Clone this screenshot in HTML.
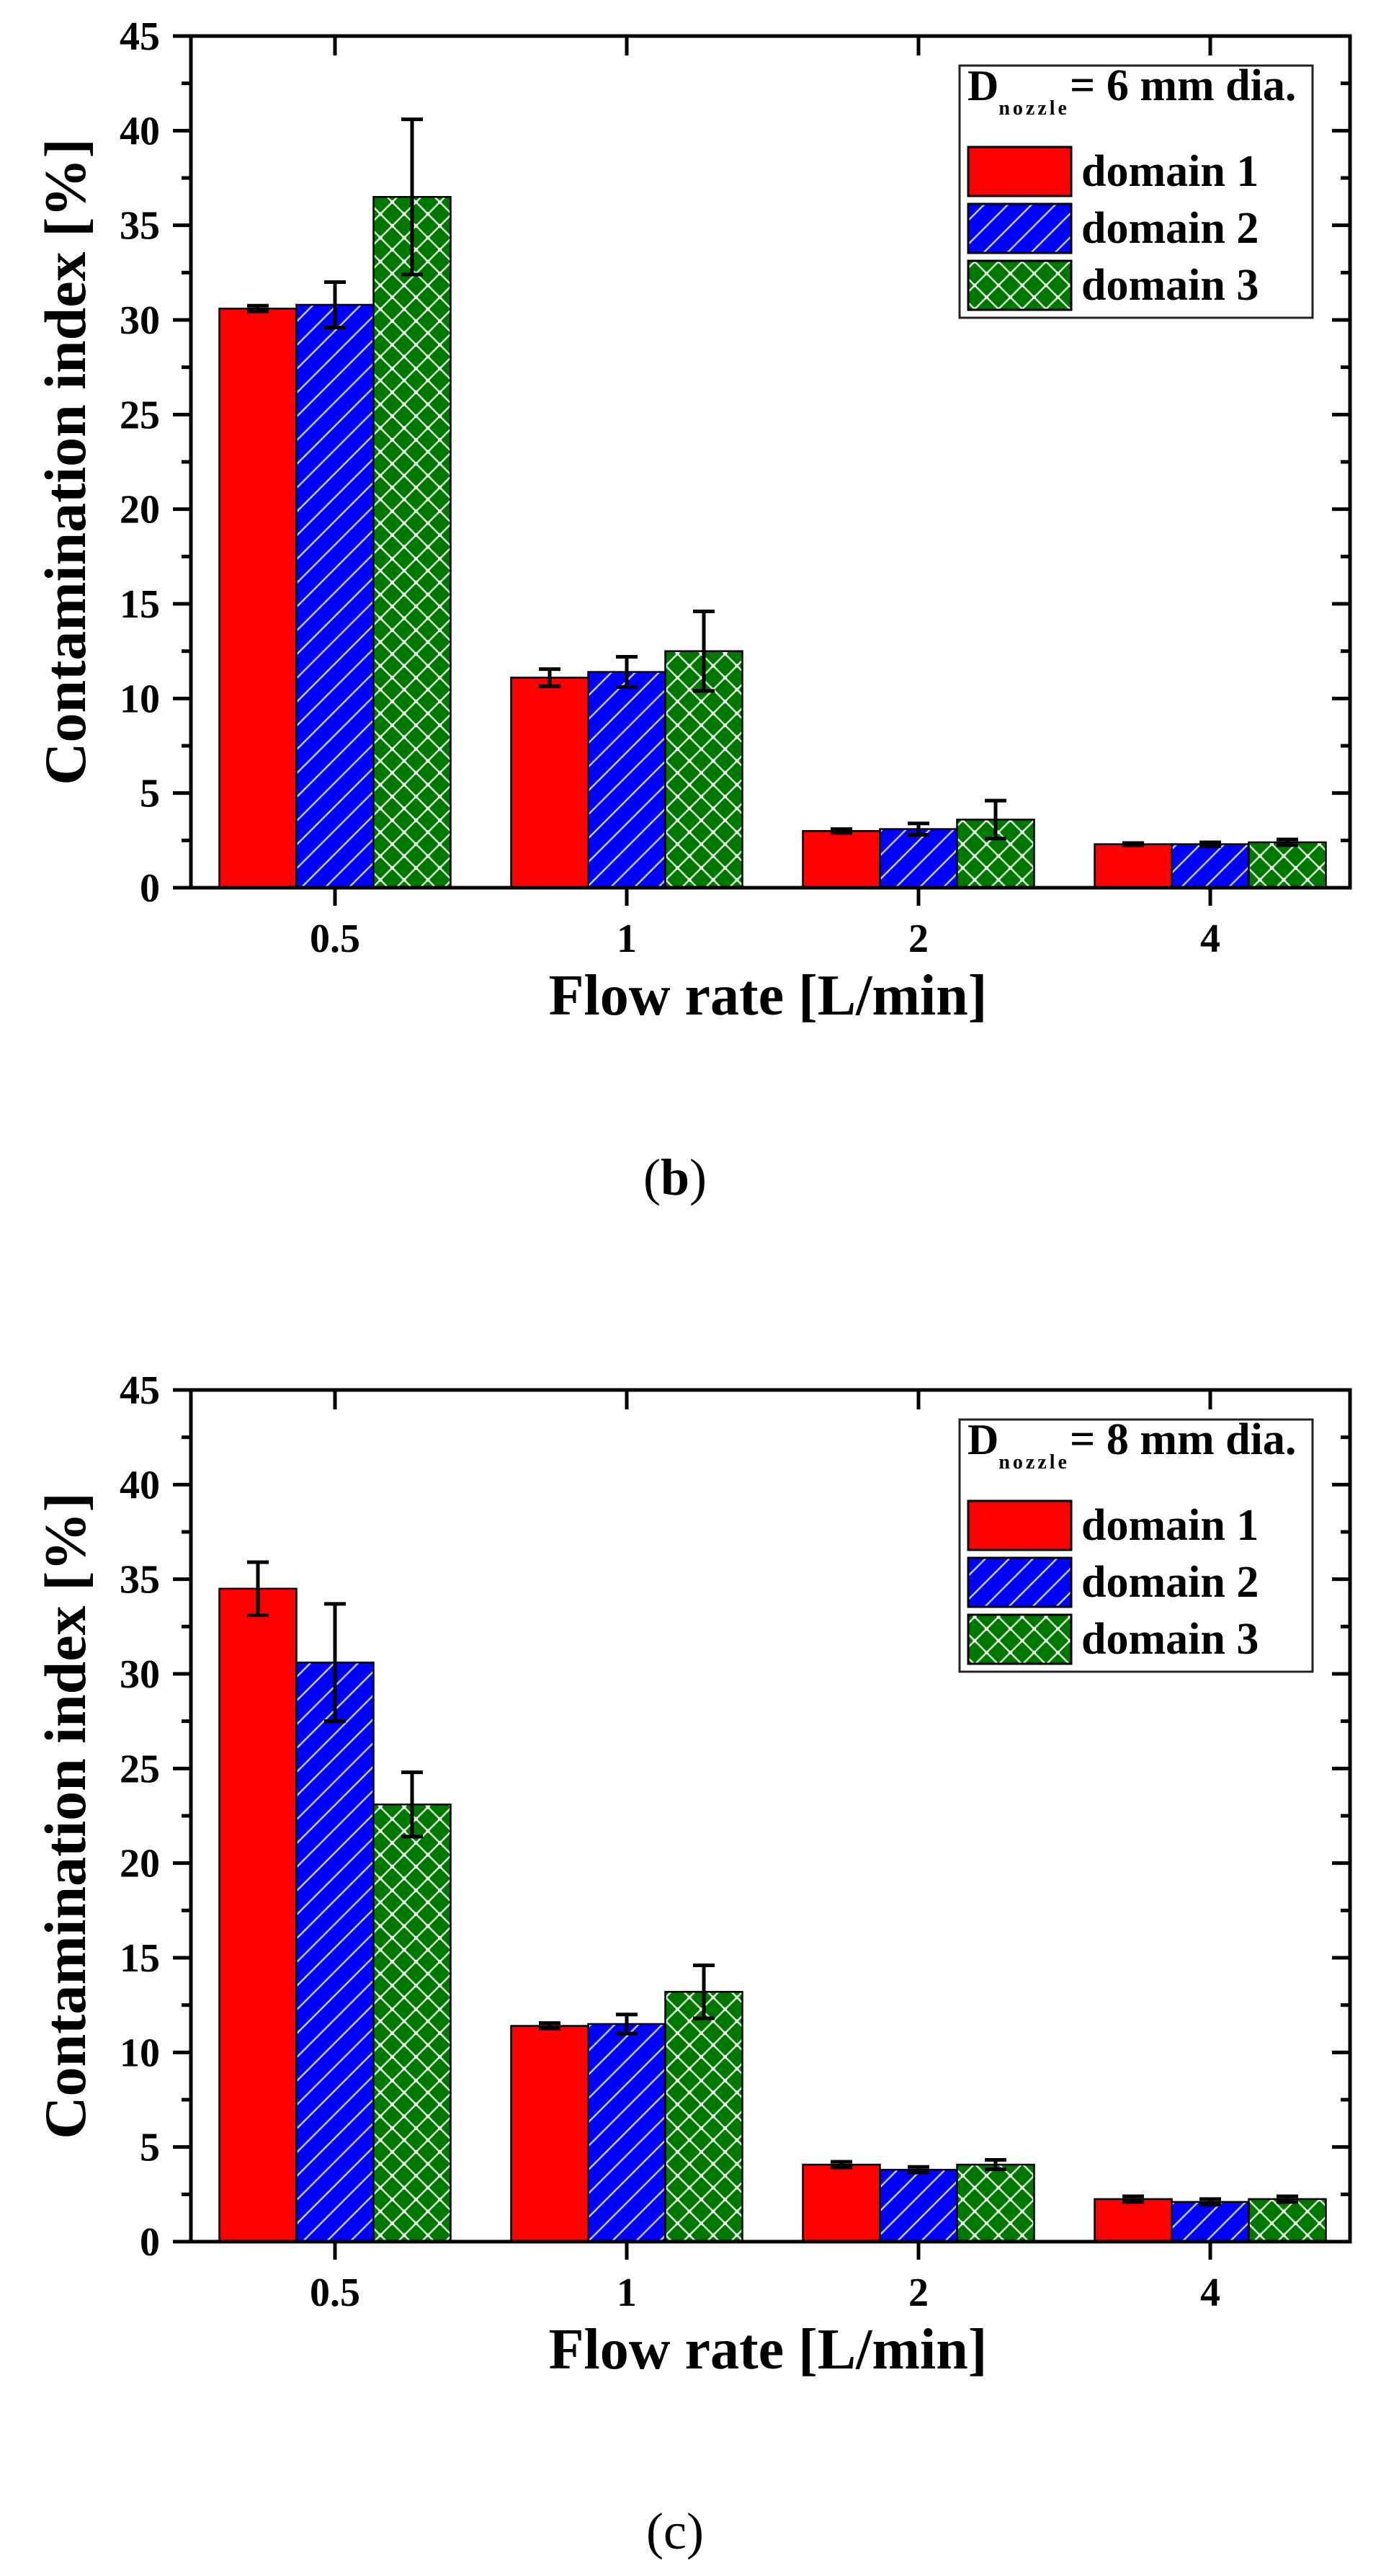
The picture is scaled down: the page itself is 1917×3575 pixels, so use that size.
<!DOCTYPE html>
<html><head><meta charset="utf-8">
<style>
html,body{margin:0;padding:0;background:#fff;}
svg{display:block;}
text{font-family:"Liberation Serif",serif;}
</style></head>
<body>
<svg id="fig" width="1917" height="3575" viewBox="0 0 1917 3575" xmlns="http://www.w3.org/2000/svg">
<defs>
<pattern id="diag" patternUnits="userSpaceOnUse" width="33" height="33">
<rect width="33" height="33" fill="#0000ff"/>
<path d="M-8,41 L41,-8 M-8,8 L8,-8 M25,41 L41,25" stroke="#c8c8ff" stroke-width="2.5"/>
</pattern>
<pattern id="cross" patternUnits="userSpaceOnUse" width="33" height="33">
<rect width="33" height="33" fill="#007800"/>
<path d="M0,0 L33,33 M33,0 L0,33" stroke="#d8f0d8" stroke-width="2.5"/>
<circle cx="0" cy="0" r="2.5" fill="#fff"/><circle cx="33" cy="0" r="2.5" fill="#fff"/>
<circle cx="0" cy="33" r="2.5" fill="#fff"/><circle cx="33" cy="33" r="2.5" fill="#fff"/>
<circle cx="16.5" cy="16.5" r="2.5" fill="#fff"/>
</pattern>
</defs>
</svg>
<script>
// ---- data ----
const categories = ["0.5", "1", "2", "4"];
const yTicks = [0, 5, 10, 15, 20, 25, 30, 35, 40, 45];
const seriesNames = ["domain 1", "domain 2", "domain 3"];
// chart (b): 6 mm nozzle
const b_d1 = [30.6, 11.1, 3.0, 2.3];
const b_d2 = [30.8, 11.4, 3.1, 2.3];
const b_d3 = [36.5, 12.5, 3.6, 2.4];
const b_e1 = [0.15, 0.45, 0.1, 0.06];
const b_e2 = [1.2, 0.8, 0.3, 0.1];
const b_e3 = [4.1, 2.1, 1.0, 0.15];
// chart (c): 8 mm nozzle
const c_d1 = [34.5, 11.4, 4.07, 2.25];
const c_d2 = [30.6, 11.5, 3.8, 2.1];
const c_d3 = [23.1, 13.2, 4.07, 2.25];
const c_e1 = [1.4, 0.15, 0.15, 0.15];
const c_e2 = [3.1, 0.5, 0.15, 0.15];
const c_e3 = [1.7, 1.4, 0.25, 0.15];

const NS = "http://www.w3.org/2000/svg";
const svg = document.getElementById("fig");
function mk(tag, attrs, parent){
  const e = document.createElementNS(NS, tag);
  for (const k in attrs) e.setAttribute(k, attrs[k]);
  (parent || svg).appendChild(e);
  return e;
}
const fills = ["#ff0000", "url(#diag)", "url(#cross)"];

function drawChart(dy, vals, errs, nozzle, label, labelBold, chartName){
  const g = mk("g", {});
  
  
  const L = 265, R = 1874, T = 50 + dy, B = 1232 + dy;
  const yMax = 45;
  const yS = v => B - v / yMax * (B - T);
  const xCenter = i => 465 + i * 405;
  const bw = 107;
  for (let s = 0; s < 3; s++){
    for (let i = 0; i < categories.length; i++){
      const x0 = xCenter(i) - 1.5 * bw + s * bw;
      const r = mk("rect", {x: x0, y: yS(vals[s][i]), width: bw, height: B - yS(vals[s][i]), fill: fills[s], stroke: "#000", "stroke-width": 2.5}, g);
      
      
    }
  }
  for (let s = 0; s < 3; s++){
    for (let i = 0; i < categories.length; i++){
      const cx = xCenter(i) - bw + s * bw;
      const hi = yS(vals[s][i] + errs[s][i]), lo = yS(vals[s][i] - errs[s][i]);
      const eb = mk("path", {d: `M${cx},${hi} L${cx},${lo} M${cx-15},${hi} L${cx+15},${hi} M${cx-15},${lo} L${cx+15},${lo}`, stroke: "#000", "stroke-width": 5, fill: "none"}, g);
      
      
    }
  }
  const frame = mk("rect", {x: L, y: T, width: R - L, height: B - T, fill: "none", stroke: "#000", "stroke-width": 5}, g);
  
  
  for (let k = 0; k <= 18; k++){
    const v = k * 2.5, y = yS(v), major = (k % 2 === 0);
    mk("line", {x1: L - (major ? 25 : 13), x2: L, y1: y, y2: y, stroke: "#000", "stroke-width": 5}, g);
    mk("line", {x1: R, x2: R - (major ? 25 : 13), y1: y, y2: y, stroke: "#000", "stroke-width": 5}, g);
  }
  yTicks.forEach(v => {
    const t = mk("text", {x: 222, y: yS(v) + 19, "text-anchor": "end", "font-size": 56, "font-weight": "bold"}, g);
    t.textContent = v;
    
    
  });
  categories.forEach((c, i) => {
    const x = xCenter(i);
    mk("line", {x1: x, x2: x, y1: B, y2: B + 25, stroke: "#000", "stroke-width": 5}, g);
    mk("line", {x1: x, x2: x, y1: T, y2: T + 27, stroke: "#000", "stroke-width": 5}, g);
    const t = mk("text", {x: x, y: B + 89, "text-anchor": "middle", "font-size": 56, "font-weight": "bold"}, g);
    t.textContent = c;
    
    
  });
  const yt = mk("text", {x: 0, y: 0, transform: `translate(118,${(T + B) / 2}) rotate(-90)`, "text-anchor": "middle", "font-size": 82, "font-weight": "bold"}, g);
  yt.textContent = "Contamination index [%]";
  
  
  const xt = mk("text", {x: 1066, y: 1408 + dy, "text-anchor": "middle", "font-size": 80, "font-weight": "bold"}, g);
  xt.textContent = "Flow rate [L/min]";
  
  
  const lg = mk("g", {}, g);
  
  
  mk("rect", {x: 1332, y: 91 + dy, width: 490, height: 350, fill: "#fff", stroke: "#222", "stroke-width": 3}, lg);
  const lt = mk("text", {x: 1343, y: 139 + dy, "font-size": 60, "font-weight": "bold"}, lg);
  
  
  const t1 = mk("tspan", {}, lt); t1.textContent = "D";
  const t2 = mk("tspan", {dy: 20, "font-size": 28, "letter-spacing": 4}, lt); t2.textContent = "nozzle";
  const t3 = mk("tspan", {dy: -20, "font-size": 62}, lt); t3.textContent = "= " + nozzle + " mm dia.";
  for (let s = 0; s < 3; s++){
    const ry = 204 + dy + s * 79;
    const sw = mk("rect", {x: 1344, y: ry, width: 143, height: 68, fill: fills[s], stroke: "#000", "stroke-width": 3}, lg);
    
    
    const tx = mk("text", {x: 1501, y: ry + 54, "font-size": 62, "font-weight": "bold"}, lg);
    tx.textContent = seriesNames[s];
    
    
  }
  const pl = mk("text", {x: 937, y: 1658 + dy, "text-anchor": "middle", "font-size": 72}, g);
  
  
  const p1 = mk("tspan", {}, pl); p1.textContent = "(";
  const p2 = mk("tspan", {"font-weight": labelBold ? "bold" : "normal"}, pl); p2.textContent = label;
  const p3 = mk("tspan", {}, pl); p3.textContent = ")";
}

drawChart(0, [b_d1, b_d2, b_d3], [b_e1, b_e2, b_e3], "6", "b", true, "chart-b-6mm");
drawChart(1879, [c_d1, c_d2, c_d3], [c_e1, c_e2, c_e3], "8", "c", false, "chart-c-8mm");
</script>
</body></html>
